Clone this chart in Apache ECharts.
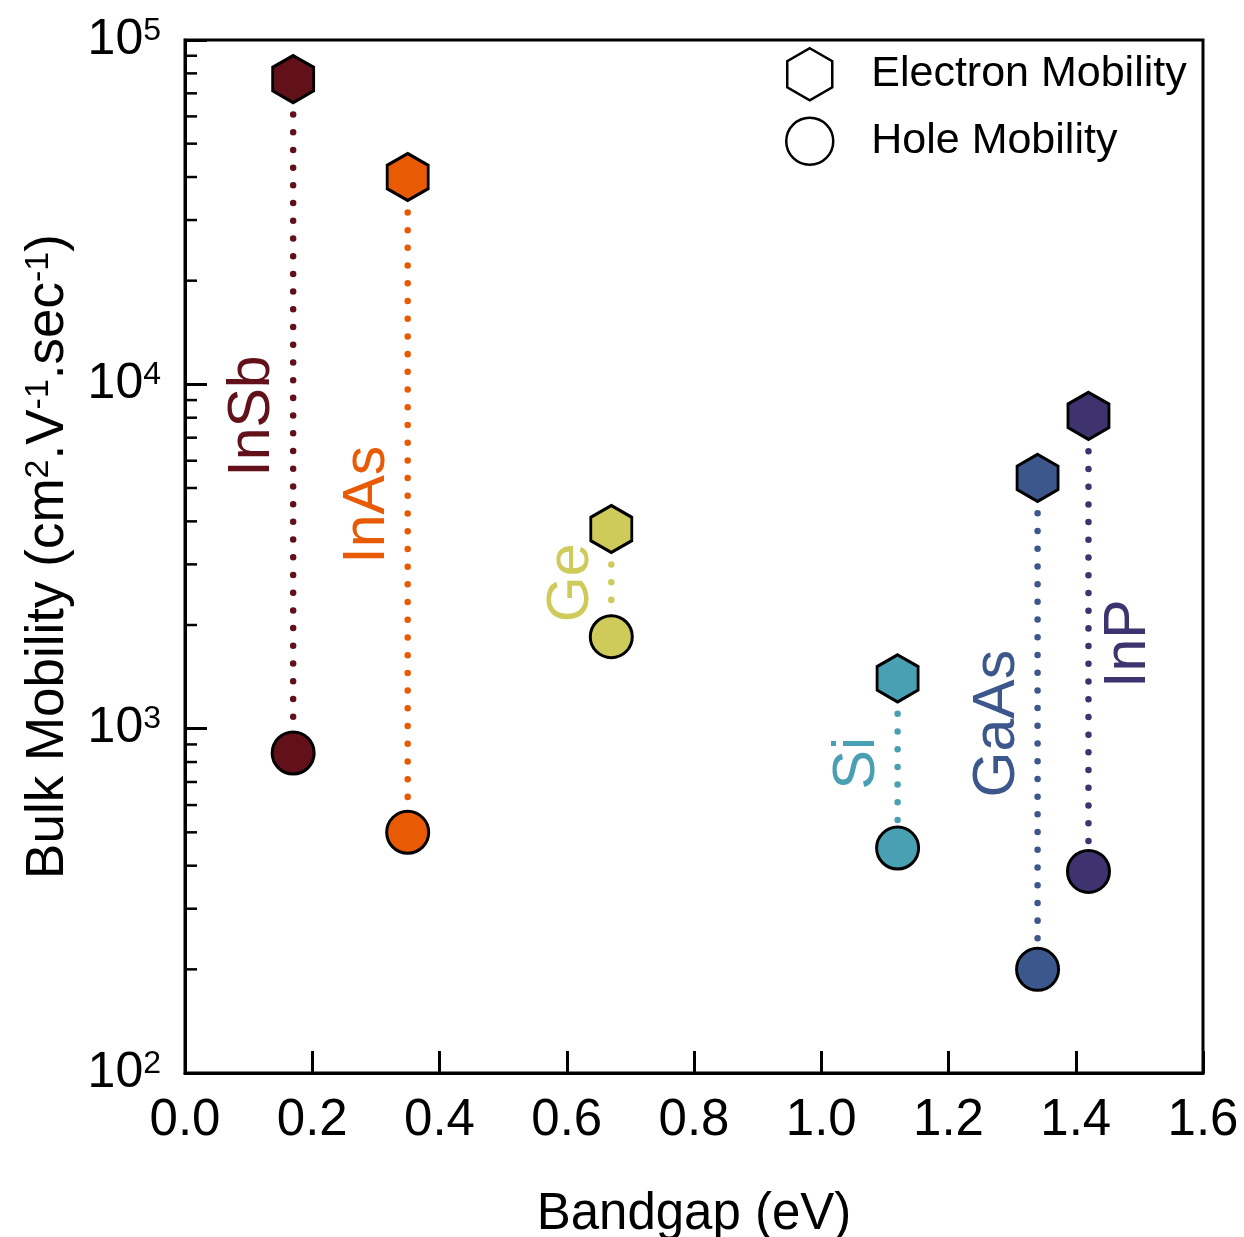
<!DOCTYPE html>
<html>
<head>
<meta charset="utf-8">
<script src="https://cdn.jsdelivr.net/npm/echarts@6/dist/echarts.min.js"></script>
<style>
html,body{margin:0;padding:0;background:#fff;}
#chart{width:1244px;height:1237px;}
</style>
</head>
<body>
<div id="chart"></div>
<script>
// ---- data ----
const materials = ['InSb', 'InAs', 'Ge', 'Si', 'GaAs', 'InP'];
const bandgap = [0.17, 0.35, 0.67, 1.12, 1.34, 1.42];
const electronMobility = [77000, 40000, 3800, 1400, 5350, 8100];
const holeMobility = [850, 500, 1850, 450, 200, 385];
const labelSide = [-1, -1, -1, -1, -1, 1];
const colors = ['#62111a', '#e85b04', '#cfcb5b', '#48a0b2', '#3b578c', '#3e336f'];
const xTickLabels = ['0.0', '0.2', '0.4', '0.6', '0.8', '1.0', '1.2', '1.4', '1.6'];
const yTickExponents = [2, 3, 4, 5];
const yMinorTicks = [200, 300, 400, 500, 600, 700, 800, 900,
  2000, 3000, 4000, 5000, 6000, 7000, 8000, 9000,
  20000, 30000, 40000, 50000, 60000, 70000, 80000, 90000];

const FONT = '"Liberation Sans", Arial, Helvetica, sans-serif';
const HEX = 'path://M0,-1L0.866,-0.5L0.866,0.5L0,1L-0.866,0.5L-0.866,-0.5Z';
const X_MIN = 0, X_MAX = 1.6;

const chart = echarts.init(document.getElementById('chart'), null, {renderer: 'canvas'});

const option = {
  animation: false,
  backgroundColor: '#fff',
  textStyle: {fontFamily: FONT, color: '#000'},
  grid: {
    left: 185, right: 41, top: 40, bottom: 164,
    outerBoundsMode: 'none',
    containLabel: false,
    show: true, borderColor: '#000', borderWidth: 3, backgroundColor: 'transparent'
  },
  legend: {
    orient: 'vertical',
    left: 785, top: 47, padding: 0,
    itemWidth: 47, itemHeight: 52, itemGap: 15,
    selectedMode: false,
    textStyle: {fontSize: 43, fontFamily: FONT, color: '#000', padding: [0, 0, 0, 33]},
    data: [
      {name: 'Electron Mobility', icon: HEX, itemStyle: {color: '#fff', borderColor: '#000', borderWidth: 2.5}},
      {name: 'Hole Mobility', icon: 'circle', itemStyle: {color: '#fff', borderColor: '#000', borderWidth: 2.5}}
    ]
  },
  xAxis: {
    type: 'value', min: X_MIN, max: X_MAX, interval: 0.2,
    name: 'Bandgap (eV)', nameLocation: 'middle', nameGap: 116,
    nameTextStyle: {fontSize: 51, lineHeight: 51, fontFamily: FONT, color: '#000'},
    axisLine: {show: true, lineStyle: {color: '#000', width: 3}},
    axisTick: {show: true, inside: true, length: 22, lineStyle: {color: '#000', width: 3}},
    axisLabel: {
      fontSize: 51, fontFamily: FONT, color: '#000', margin: 22,
      formatter: function (v) { return xTickLabels[Math.round((v - X_MIN) / 0.2)]; }
    },
    splitLine: {show: false}
  },
  yAxis: {
    type: 'log', logBase: 10, min: 100, max: 100000,
    name: 'Bulk Mobility (cm{s|2}.V{s|-1}.sec{s|-1})',
    nameLocation: 'middle', nameGap: 110, nameRotate: 90,
    nameTextStyle: {
      fontSize: 53, lineHeight: 53, fontFamily: FONT, color: '#000',
      rich: {s: {fontSize: 34, lineHeight: 34, verticalAlign: 'top', fontFamily: FONT, color: '#000'}}
    },
    axisLine: {show: true, lineStyle: {color: '#000', width: 3}},
    axisTick: {show: true, inside: true, length: 22, lineStyle: {color: '#000', width: 3}},
    axisLabel: {
      margin: 24, color: '#000',
      formatter: function (v) {
        const e = Math.round(Math.log10(v));
        const idx = yTickExponents.indexOf(e);
        return '{b|10}{s|' + (idx >= 0 ? yTickExponents[idx] : e) + '}';
      },
      rich: {
        b: {fontSize: 50, lineHeight: 50, fontFamily: FONT, color: '#000'},
        s: {fontSize: 32, lineHeight: 30, verticalAlign: 'top', fontFamily: FONT, color: '#000'}
      }
    },
    splitLine: {show: false},
    minorTick: {show: false}
  },
  series: [
    {
      name: 'minorTicks',
      type: 'custom',
      silent: true,
      z: 5,
      data: yMinorTicks.map(v => [X_MIN, v]),
      encode: {x: 0, y: 1},
      renderItem: function (params, api) {
        const p = api.coord([X_MIN, api.value(1)]);
        return {
          type: 'line',
          shape: {x1: p[0], y1: p[1], x2: p[0] + 12, y2: p[1]},
          style: {stroke: '#000', lineWidth: 2.5}
        };
      }
    },
    {
      name: 'links',
      type: 'custom',
      silent: true,
      z: 2,
      data: materials.map((m, i) => [bandgap[i], electronMobility[i], holeMobility[i], i]),
      dimensions: ['x', 'e', 'h', 'i'],
      encode: {x: 0, y: 1},
      renderItem: function (params, api) {
        const i = api.value(3);
        const pe = api.coord([api.value(0), api.value(1)]);
        const ph = api.coord([api.value(0), api.value(2)]);
        return {
          type: 'group',
          children: [
            {
              type: 'line',
              shape: {x1: pe[0], y1: pe[1], x2: ph[0], y2: ph[1]},
              style: {stroke: colors[i], lineWidth: 6.5, lineDash: [0.01, 17.7], lineCap: 'round'}
            },
            {
              type: 'text',
              x: pe[0] + labelSide[i] * 40,
              y: (pe[1] + ph[1]) / 2,
              rotation: Math.PI / 2,
              style: {
                text: materials[i], fill: colors[i],
                font: '59px ' + FONT, align: 'center', verticalAlign: 'middle'
              }
            }
          ]
        };
      }
    },
    {
      name: 'Electron Mobility',
      type: 'scatter',
      z: 10,
      symbol: HEX,
      symbolSize: [41, 47],
      itemStyle: {borderColor: '#000', borderWidth: 3, opacity: 1},
      data: materials.map((m, i) => ({value: [bandgap[i], electronMobility[i]], itemStyle: {color: colors[i]}}))
    },
    {
      name: 'Hole Mobility',
      type: 'scatter',
      z: 10,
      symbol: 'circle',
      symbolSize: 42,
      itemStyle: {borderColor: '#000', borderWidth: 3, opacity: 1},
      data: materials.map((m, i) => ({value: [bandgap[i], holeMobility[i]], itemStyle: {color: colors[i]}}))
    }
  ]
};
chart.setOption(option);
</script>
</body>
</html>
